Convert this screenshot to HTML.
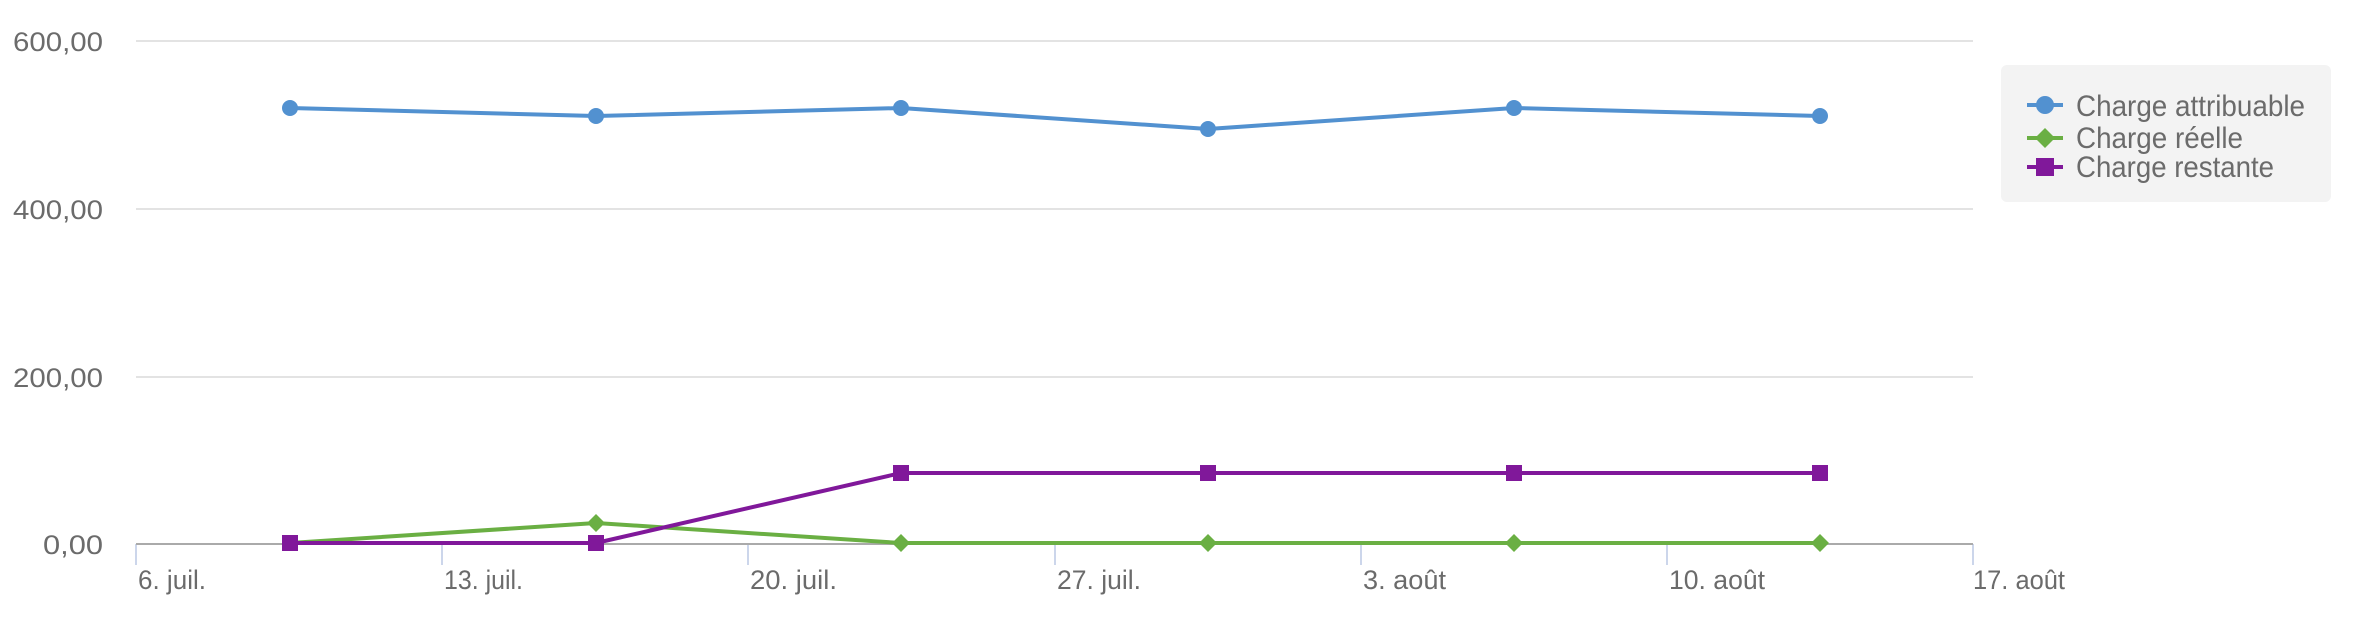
<!DOCTYPE html>
<html><head><meta charset="utf-8"><style>
html,body{margin:0;padding:0;background:#fff;}
svg{display:block;font-family:"Liberation Sans",sans-serif;}
</style></head><body>
<svg width="2355" height="625" viewBox="0 0 2355 625" xmlns="http://www.w3.org/2000/svg">
<g stroke="#e3e3e3" stroke-width="2">
<line x1="136" y1="41" x2="1973" y2="41"/>
<line x1="136" y1="209" x2="1973" y2="209"/>
<line x1="136" y1="377" x2="1973" y2="377"/>
</g>
<g stroke="#ccd6eb" stroke-width="2">
<line x1="136" y1="544" x2="136" y2="565"/>
<line x1="442" y1="544" x2="442" y2="565"/>
<line x1="748" y1="544" x2="748" y2="565"/>
<line x1="1055" y1="544" x2="1055" y2="565"/>
<line x1="1361" y1="544" x2="1361" y2="565"/>
<line x1="1667" y1="544" x2="1667" y2="565"/>
<line x1="1973" y1="544" x2="1973" y2="565"/>
</g>
<line x1="136" y1="544" x2="1973" y2="544" stroke="#aaaaaa" stroke-width="2"/>
<g fill="#6b6b6b" font-size="27" text-anchor="end">
<text x="103" y="51" textLength="90" lengthAdjust="spacingAndGlyphs">600,00</text>
<text x="103" y="219" textLength="90" lengthAdjust="spacingAndGlyphs">400,00</text>
<text x="103" y="387" textLength="90" lengthAdjust="spacingAndGlyphs">200,00</text>
<text x="103" y="554" textLength="60" lengthAdjust="spacingAndGlyphs">0,00</text>
</g>
<g fill="#6b6b6b" font-size="27">
<text x="138" y="589" textLength="68" lengthAdjust="spacingAndGlyphs">6. juil.</text>
<text x="444" y="589" textLength="79" lengthAdjust="spacingAndGlyphs">13. juil.</text>
<text x="750" y="589" textLength="87" lengthAdjust="spacingAndGlyphs">20. juil.</text>
<text x="1057" y="589" textLength="84" lengthAdjust="spacingAndGlyphs">27. juil.</text>
<text x="1363" y="589" textLength="83" lengthAdjust="spacingAndGlyphs">3. août</text>
<text x="1669" y="589" textLength="96" lengthAdjust="spacingAndGlyphs">10. août</text>
<text x="1973" y="589" textLength="92" lengthAdjust="spacingAndGlyphs">17. août</text>
</g>
<polyline fill="none" stroke="#5291d0" stroke-width="4" stroke-linejoin="round" points="290,108 596,116 901,108 1208,129 1514,108 1820,116"/>
<g fill="#5291d0">
<circle cx="290" cy="108" r="8"/><circle cx="596" cy="116" r="8"/><circle cx="901" cy="108" r="8"/>
<circle cx="1208" cy="129" r="8"/><circle cx="1514" cy="108" r="8"/><circle cx="1820" cy="116" r="8"/>
</g>
<polyline fill="none" stroke="#6aaf43" stroke-width="4" stroke-linejoin="round" points="290,543 596,523 901,543 1208,543 1514,543 1820,543"/>
<g fill="#6aaf43">
<path d="M596 514 L605 523 L596 532 L587 523Z"/>
<path d="M901 534 L910 543 L901 552 L892 543Z"/>
<path d="M1208 534 L1217 543 L1208 552 L1199 543Z"/>
<path d="M1514 534 L1523 543 L1514 552 L1505 543Z"/>
<path d="M1820 534 L1829 543 L1820 552 L1811 543Z"/>
</g>
<polyline fill="none" stroke="#80189a" stroke-width="4" stroke-linejoin="round" points="290,543 596,543 901,473 1208,473 1514,473 1820,473"/>
<g fill="#80189a">
<rect x="282" y="535" width="16" height="16"/><rect x="588" y="535" width="16" height="16"/>
<rect x="893" y="465" width="16" height="16"/><rect x="1200" y="465" width="16" height="16"/>
<rect x="1506" y="465" width="16" height="16"/><rect x="1812" y="465" width="16" height="16"/>
</g>
<rect x="2001" y="65" width="330" height="137" rx="6" fill="#f3f3f3"/>
<line x1="2027" y1="105" x2="2063" y2="105" stroke="#5291d0" stroke-width="4"/>
<circle cx="2045" cy="105" r="9" fill="#5291d0"/>
<line x1="2027" y1="138" x2="2063" y2="138" stroke="#6aaf43" stroke-width="4"/>
<path d="M2045 128 L2055 138 L2045 148 L2035 138Z" fill="#6aaf43"/>
<line x1="2027" y1="167" x2="2063" y2="167" stroke="#80189a" stroke-width="4"/>
<rect x="2036" y="158" width="18" height="18" fill="#80189a"/>
<g fill="#6b6b6b" font-size="30">
<text x="2076" y="116" textLength="229" lengthAdjust="spacingAndGlyphs">Charge attribuable</text>
<text x="2076" y="148" textLength="167" lengthAdjust="spacingAndGlyphs">Charge réelle</text>
<text x="2076" y="177" textLength="198" lengthAdjust="spacingAndGlyphs">Charge restante</text>
</g>
</svg>
</body></html>
